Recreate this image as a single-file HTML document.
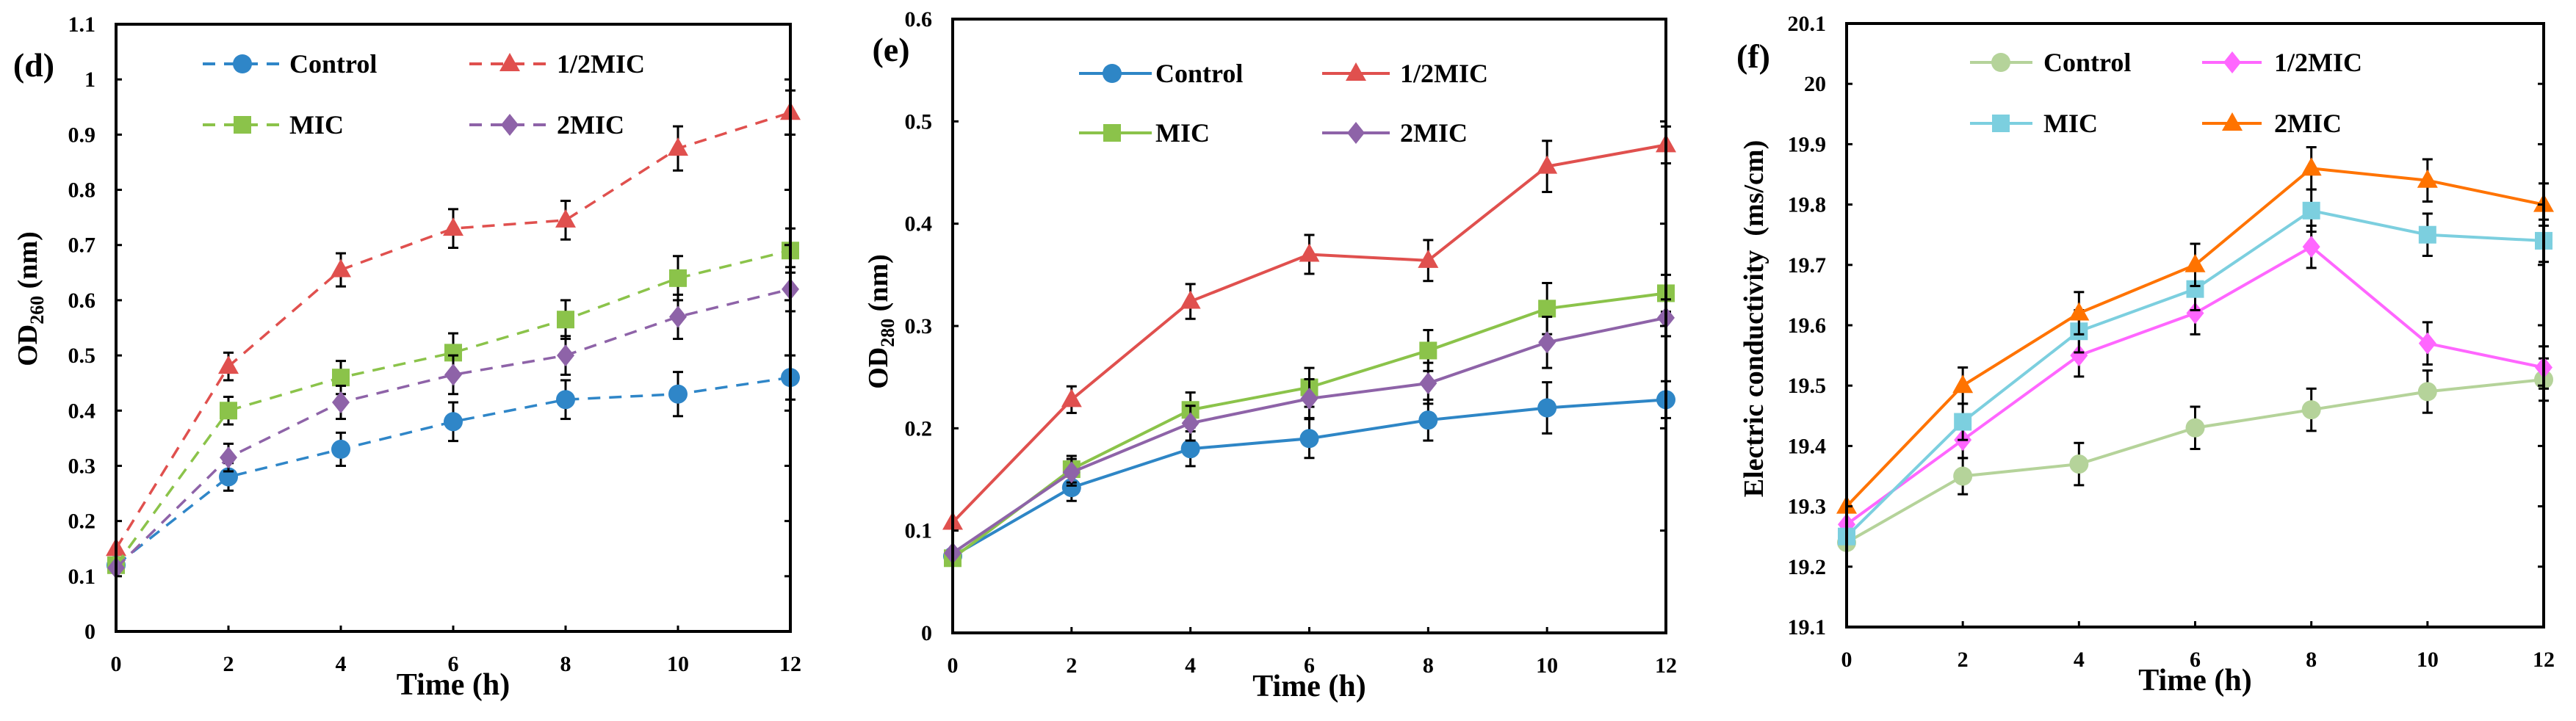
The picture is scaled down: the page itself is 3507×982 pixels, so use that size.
<!DOCTYPE html>
<html><head><meta charset="utf-8"><style>
html,body{margin:0;padding:0;background:#fff;overflow:hidden;}
svg{display:block;font-family:"Liberation Serif",serif;font-weight:bold;}
</style></head><body>
<svg id="fig" width="3507" height="982" viewBox="0 0 3507 982" xmlns="http://www.w3.org/2000/svg"></svg>
<script>
const xTicks = [0,2,4,6,8,10,12];
const seriesNames = ["Control","1/2MIC","MIC","2MIC"];
// Panel d (OD260)
const dControl = [0.12,0.28,0.33,0.38,0.42,0.43,0.46];
const dHalf = [0.15,0.48,0.655,0.73,0.745,0.875,0.94];
const dMIC = [0.12,0.40,0.46,0.505,0.565,0.64,0.69];
const d2MIC = [0.115,0.315,0.415,0.465,0.50,0.57,0.62];
const dErr = [0.02,0.025,0.03,0.035,0.035,0.04,0.04];
const dYTicks = [0,0.1,0.2,0.3,0.4,0.5,0.6,0.7,0.8,0.9,1,1.1];
// Panel e (OD280)
const eControl = [0.075,0.142,0.18,0.19,0.208,0.22,0.228];
const eHalf = [0.108,0.228,0.324,0.37,0.364,0.456,0.477];
const eMIC = [0.073,0.16,0.218,0.24,0.276,0.317,0.332];
const e2MIC = [0.078,0.157,0.205,0.229,0.244,0.284,0.308];
const eErr = [0.01,0.013,0.017,0.019,0.02,0.025,0.018];
const eYTicks = [0,0.1,0.2,0.3,0.4,0.5,0.6];
// Panel f (conductivity)
const fControl = [19.24,19.35,19.37,19.43,19.46,19.49,19.51];
const fHalf = [19.27,19.41,19.55,19.62,19.73,19.57,19.53];
const fMIC = [19.25,19.44,19.59,19.66,19.79,19.75,19.74];
const f2MIC = [19.30,19.50,19.62,19.70,19.86,19.84,19.80];
const fErr = [0.03,0.03,0.035,0.035,0.035,0.035,0.035];
const fYTicks = ["19.1","19.2","19.3","19.4","19.5","19.6","19.7","19.8","19.9","20","20.1"];

const NS="http://www.w3.org/2000/svg";
const svg=document.getElementById('fig');
function mk(tag,attrs,parent,name,inter){
  const e=document.createElementNS(NS,tag);
  for(const k in attrs)e.setAttribute(k,attrs[k]);
  
  
  (parent||svg).appendChild(e);return e;
}
function marker(g,shape,cx,cy,color,name){
  if(shape==='circle')return mk('circle',{cx:cx,cy:cy,r:13,fill:color},g,name);
  if(shape==='tri')return mk('polygon',{points:`${cx},${cy-15} ${cx+14},${cy+10} ${cx-14},${cy+10}`,fill:color},g,name);
  if(shape==='square')return mk('rect',{x:cx-12,y:cy-12,width:24,height:24,fill:color},g,name);
  return mk('polygon',{points:`${cx},${cy-15} ${cx+12},${cy} ${cx},${cy+15} ${cx-12},${cy}`,fill:color},g,name);
}
function panel(cfg){
  const g=mk('g',{},svg,cfg.id,false);
  const X=v=>cfg.L+(v-xTicks[0])/(xTicks[xTicks.length-1]-xTicks[0])*(cfg.R-cfg.L);
  const Y=v=>cfg.B-(v-cfg.ymin)/(cfg.ymax-cfg.ymin)*(cfg.B-cfg.T);
  cfg.series.forEach((s,si)=>{
    const sg=mk('g',{},g,'series-'+seriesNames[si].toLowerCase().replace('/','-'),false);
    const pts=s.vals.map((v,i)=>X(xTicks[i])+','+Y(v)).join(' ');
    const la={points:pts,fill:'none',stroke:s.color,'stroke-width':cfg.dashed?3.5:4};
    if(cfg.dashed)la['stroke-dasharray']='17,12';
    mk('polyline',la,sg,'series-line',false);
    s.vals.forEach((v,i)=>{
      if(i>0){const e=cfg.err[i];const x=X(xTicks[i]);
        mk('line',{x1:x,x2:x,y1:Y(v-e),y2:Y(v+e),stroke:'#000','stroke-width':3},sg,'error-bar',false);
        mk('line',{x1:x-7,x2:x+7,y1:Y(v+e),y2:Y(v+e),stroke:'#000','stroke-width':3},sg,'error-cap',false);
        mk('line',{x1:x-7,x2:x+7,y1:Y(v-e),y2:Y(v-e),stroke:'#000','stroke-width':3},sg,'error-cap',false);}
      marker(sg,s.shape,X(xTicks[i]),Y(v),s.color,'data-point');
    });
  });
  mk('rect',{x:cfg.L,y:cfg.T,width:cfg.R-cfg.L,height:cfg.B-cfg.T,fill:'none',stroke:'#000','stroke-width':4},g,'plot-frame',false);
  cfg.yTicks.forEach(t=>{const y=Y(parseFloat(t));
    mk('line',{x1:cfg.L,x2:cfg.L+8,y1:y,y2:y,stroke:'#000','stroke-width':3},g,'y-tick',false);
    mk('line',{x1:cfg.R,x2:cfg.R-8,y1:y,y2:y,stroke:'#000','stroke-width':3},g,'y-tick-right',false);
    const tx=mk('text',{x:cfg.L-28,y:y+10,'text-anchor':'end','font-size':30},g,'y-tick-label',false);tx.textContent=t;});
  xTicks.forEach(t=>{const x=X(t);
    mk('line',{x1:x,x2:x,y1:cfg.B,y2:cfg.B-8,stroke:'#000','stroke-width':3},g,'x-tick',false);
    const tx=mk('text',{x:x,y:cfg.B+54,'text-anchor':'middle','font-size':30},g,'x-tick-label',false);tx.textContent=t;});
  const xt=mk('text',{x:(cfg.L+cfg.R)/2,y:cfg.B+86,'text-anchor':'middle','font-size':42},g,'x-axis-title',false);xt.textContent='Time (h)';
  const yt=mk('text',{x:0,y:0,'text-anchor':'middle','font-size':38,transform:`translate(${cfg.ytx},${cfg.yty}) rotate(-90)`},g,'y-axis-title',false);
  yt.innerHTML=cfg.ytitle;
  const pl=mk('text',{x:cfg.plx,y:cfg.ply+16,'text-anchor':'middle','font-size':46},g,'panel-label',false);pl.textContent=cfg.label;
  cfg.series.forEach((s,si)=>{
    const lx=cfg.leg[si%2], ly=cfg.legY[Math.floor(si/2)];
    const lg=mk('g',{},g,'legend-entry',false);
    const la={x1:lx[0],x2:lx[1],y1:ly,y2:ly,stroke:s.color,'stroke-width':4};
    if(cfg.dashed)la['stroke-dasharray']='17,12';
    mk('line',la,lg,'legend-line',false);
    marker(lg,s.shape,lx[2],ly,s.color,'legend-marker');
    const t=mk('text',{x:lx[3],y:ly+12,'font-size':36},lg,'legend-label',false);t.textContent=seriesNames[si];
  });
}
panel({id:'panel-d',L:158,R:1076,T:33,B:860,ymin:0,ymax:1.1,yTicks:dYTicks.map(String),err:dErr,dashed:true,
  series:[{vals:dControl,color:'#2f86c8',shape:'circle'},{vals:dHalf,color:'#e0504e',shape:'tri'},{vals:dMIC,color:'#8bc34a',shape:'square'},{vals:d2MIC,color:'#8e63a8',shape:'diamond'}],
  ytx:50,yty:407,ytitle:'OD<tspan font-size="26" dy="9">260</tspan><tspan dy="-9"> (nm)</tspan>',plx:46,ply:88,label:'(d)',
  leg:[[276,385,330,394],[639,750,694,758]],legY:[87,170]});
panel({id:'panel-e',L:1297,R:2268,T:26,B:862,ymin:0,ymax:0.6,yTicks:eYTicks.map(String),err:eErr,dashed:false,
  series:[{vals:eControl,color:'#2e86c6',shape:'circle'},{vals:eHalf,color:'#e0504e',shape:'tri'},{vals:eMIC,color:'#8bc34a',shape:'square'},{vals:e2MIC,color:'#8e63a8',shape:'diamond'}],
  ytx:1208,yty:438,ytitle:'OD<tspan font-size="26" dy="9">280</tspan><tspan dy="-9"> (nm)</tspan>',plx:1213,ply:67,label:'(e)',
  leg:[[1469,1568,1514,1573],[1800,1892,1846,1906]],legY:[100,181]});
panel({id:'panel-f',L:2514,R:3463,T:32,B:854,ymin:19.1,ymax:20.1,yTicks:fYTicks,err:fErr,dashed:false,
  series:[{vals:fControl,color:'#b5d39a',shape:'circle'},{vals:fHalf,color:'#ff66ff',shape:'diamond'},{vals:fMIC,color:'#7ccfdf',shape:'square'},{vals:f2MIC,color:'#ff7300',shape:'tri'}],
  ytx:2400,yty:434,ytitle:'Electric conductivity&#160;&#160;(ms/cm)',plx:2387,ply:76,label:'(f)',
  leg:[[2682,2767,2724,2782],[2998,3079,3039,3096]],legY:[85,168]});
</script>
</body></html>
